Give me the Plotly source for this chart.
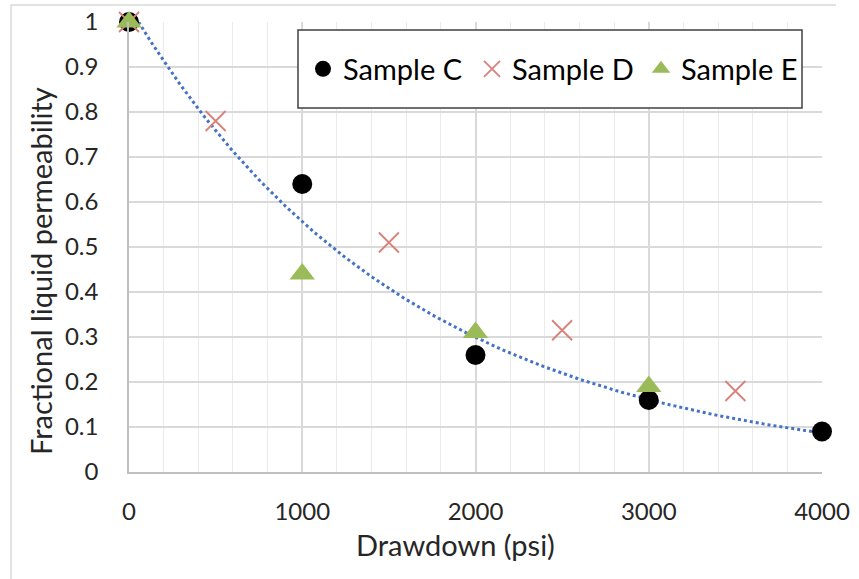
import numpy as np
import plotly.graph_objects as go

# Measured samples: drawdown (psi) vs fractional liquid permeability
c_x = [0, 1000, 2000, 3000, 4000]
c_y = [1.0, 0.64, 0.26, 0.16, 0.09]

d_x = [0, 500, 1500, 2500, 3500]
d_y = [1.0, 0.78, 0.51, 0.315, 0.18]

e_x = [0, 1000, 2000, 3000]
e_y = [1.0, 0.44, 0.31, 0.19]

x_ticks = [0, 1000, 2000, 3000, 4000]
y_ticks = [0, 0.1, 0.2, 0.3, 0.4, 0.5, 0.6, 0.7, 0.8, 0.9, 1]
y_tick_text = ["0", "0.1", "0.2", "0.3", "0.4", "0.5", "0.6", "0.7", "0.8", "0.9", "1"]

FONT = "Lato"

# Exponential trendline fitted to Sample C (log-linear least squares)
b, ln_a = np.polyfit(np.array(c_x, dtype=float), np.log(np.array(c_y)), 1)
fit_x = np.linspace(0, 4000, 200)
fit_y = np.exp(ln_a) * np.exp(b * fit_x)

fig = go.Figure()

fig.add_trace(go.Scatter(
    x=fit_x, y=fit_y, mode="lines", showlegend=False, hoverinfo="skip",
    line=dict(color="#4472C4", width=3, dash="dot"), cliponaxis=False,
))

fig.add_trace(go.Scatter(
    x=c_x, y=c_y, mode="markers", name="Sample C", cliponaxis=False,
    marker=dict(symbol="circle", size=20, color="#000000"),
))
fig.add_trace(go.Scatter(
    x=d_x, y=d_y, mode="markers", name="Sample D", cliponaxis=False,
    marker=dict(symbol="x-thin-open", size=20, color="#D9807A",
                line=dict(color="#D9807A", width=1.8)),
))
fig.add_trace(go.Scatter(
    x=e_x, y=e_y, mode="markers", name="Sample E", cliponaxis=False,
    marker=dict(symbol="triangle-up", size=22, color="#9BBB59"),
))

# Helpers to place pixel-measured frame elements in paper coordinates
L, R, T, B = 129, 822, 22, 472
def px(xp):
    return (xp - L) / (R - L)
def py(yp):
    return (B - yp) / (B - T)

# Outer chart frame (left and top edges)
fig.add_shape(type="line", xref="paper", yref="paper",
              x0=px(11), x1=px(11), y0=py(579), y1=py(5),
              line=dict(color="#D9D9D9", width=1.5), layer="below")
fig.add_shape(type="line", xref="paper", yref="paper",
              x0=px(11), x1=px(836), y0=py(5), y1=py(5),
              line=dict(color="#D9D9D9", width=1.5), layer="below")

# Legend box
fig.add_shape(type="rect", xref="paper", yref="paper",
              x0=px(298), x1=px(802), y0=py(108), y1=py(30),
              fillcolor="white", line=dict(color="#404040", width=1.5), layer="above")

# Axis titles, centred on the chart area
fig.add_annotation(text="Drawdown (psi)", xref="paper", yref="paper",
                   x=px(455), y=py(544), xanchor="center", yanchor="middle",
                   showarrow=False, font=dict(family=FONT, size=29, color="#262626"))
fig.add_annotation(text="Fractional liquid permeability", xref="paper", yref="paper",
                   x=px(40), y=py(271), xanchor="center", yanchor="middle", textangle=-90,
                   showarrow=False, font=dict(family=FONT, size=29, color="#262626"))

fig.update_layout(
    width=859, height=579,
    margin=dict(l=L, r=859 - R, t=T, b=579 - B, autoexpand=False),
    paper_bgcolor="white", plot_bgcolor="white",
    font=dict(family=FONT, color="#262626"),
    legend=dict(
        orientation="h", x=px(303), y=py(69), xanchor="left", yanchor="middle",
        bgcolor="rgba(0,0,0,0)", borderwidth=0,
        font=dict(family=FONT, size=29, color="#000000"),
        itemwidth=30, entrywidth=124, entrywidthmode="pixels",
    ),
    xaxis=dict(
        range=[0, 4000], tickvals=x_ticks, ticktext=[str(v) for v in x_ticks],
        showgrid=True, gridcolor="#D9D9D9", gridwidth=1.5,
        minor=dict(dtick=200, showgrid=True, gridcolor="#EBEBEB", gridwidth=1),
        showline=True, linecolor="#BFBFBF", linewidth=1.5,
        zeroline=False, ticks="", ticklabelstandoff=17, automargin=False,
        tickfont=dict(family=FONT, size=24, color="#262626"),
    ),
    yaxis=dict(
        range=[0, 1], tickvals=y_ticks, ticktext=y_tick_text,
        showgrid=True, gridcolor="#D9D9D9", gridwidth=1.5,
        showline=True, linecolor="#BFBFBF", linewidth=1.5,
        zeroline=False, ticks="", ticklabelstandoff=24, automargin=False,
        tickfont=dict(family=FONT, size=24, color="#262626"),
    ),
)

fig.write_html("out.html")
